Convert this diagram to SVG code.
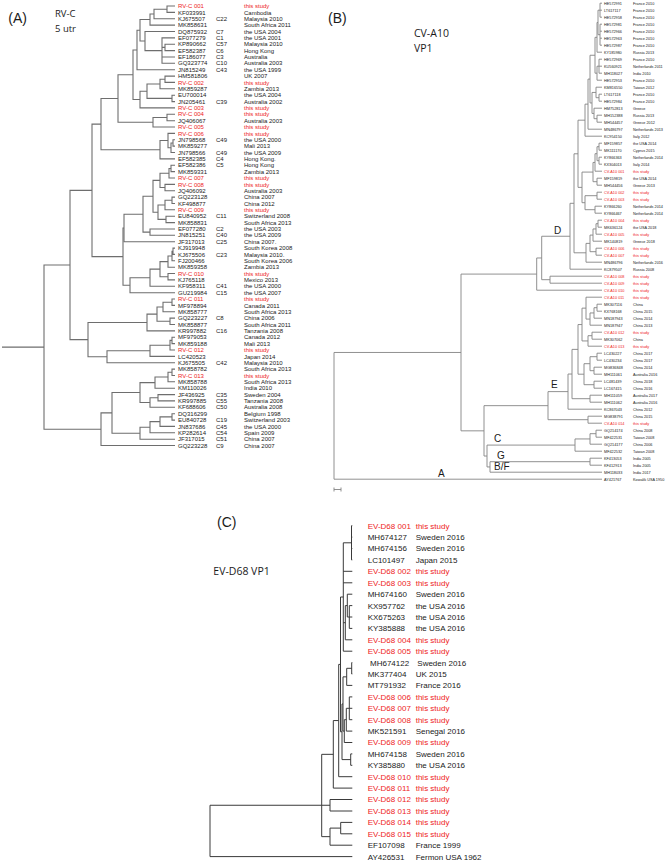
<svg xmlns="http://www.w3.org/2000/svg" width="667" height="861" viewBox="0 0 667 861">
<style>
.ln{fill:none;stroke-linejoin:miter}
.la{stroke:#6e6e6e;stroke-width:1.1}
.lb{stroke:#858585;stroke-width:0.9}
.lc{stroke:#3a3a3a;stroke-width:1}
text{font-family:"Liberation Sans",Arial,sans-serif;fill:#1a1a1a}
.ta{font-size:6px}
.tb{font-size:3.8px}
.tc{font-size:8px}
.r{fill:#ee1c1c}
.pl{font-size:14px}
.hd{font-family:"Open Sans","Liberation Sans",sans-serif;font-size:10.5px}
.ha{font-family:"Open Sans","Liberation Sans",sans-serif;font-size:9.5px}
.cl{font-family:"Open Sans","Liberation Sans",sans-serif;font-size:10px}
</style>
<rect width="667" height="861" fill="#fff"/>

<!-- ================= PANEL A ================= -->
<g id="panelA-titles">
<text class="pl" x="8.3" y="23.2">(A)</text>
<text class="ha" x="55" y="17">RV-C</text>
<text class="ha" x="55" y="31.5">5 utr</text>
</g>
<g id="connectors-A" class="ln la">
<path d="M175,6H167V12.4H175 M167,9.2H154V18.7H175 M154,13.95H150V25.1H175 M175,44.2H165V50.6H175 M175,37.9H162V63.3H175 M162,47.4H165 M162,57H175 M175,31.5H145V50.6H162 M150,19.5H140V41.05H145 M140,30.3H137V69.7H175"/>
<path d="M175,76.1H165V82.4H175 M165,79.25H160V88.8H175 M175,95.2H172V101.6H175 M160,84H147V98.4H172 M147,91.2H140V107.9H175 M137,50H133V99.55H140 M175,114.3H167V120.7H175 M167,117.5H153V127H175 M133,74.8H118V122.25H153"/>
<path d="M175,139.8H173V146.1H175 M173,142.95H171V152.5H175 M175,133.4H168V147.7H171 M168,140.55H160V158.9H175 M118,98.5H101V149.7H160"/>
<path d="M175,165.3H171V171.6H175 M171,168.45H169V178H175 M175,184.4H165V190.7H175 M169,173.2H160V187.55H165 M175,197.1H172V203.5H175 M172,200.3H165V209.8H175 M175,216.2H166V222.6H175 M165,205.05H158V219.4H166 M160,180.4H153V212.2H158 M175,229H150V235.3H175 M153,196.3H143V232.15H150 M143,214.2H124V241.7H175"/>
<path d="M175,248.1H173V254.4H175 M173,251.25H172V260.8H175 M172,256H168V267.2H175 M175,273.5H168V279.9H175 M168,261.6H160V276.7H168 M160,269.15H150V286.3H175 M150,277.7H130V292.7H175 M124,227.95H123V285.2H130 M101,124.1H92V256.6H123"/>
<path d="M175,299H172V305.4H175 M172,302.2H163V311.8H175 M175,318.1H170V324.5H175 M163,307H157V321.3H170 M157,314.15H147V330.9H175 M175,337.2H172V343.6H175 M172,340.4H170V350H175 M170,345.2H150V356.4H175 M150,350.8H107V362.7H175 M147,322.5H88V356.75H107 M92,190.35H70V339.6H88"/>
<path d="M175,369.1H172V375.5H175 M172,372.3H168V381.8H175 M168,377.05H155V388.2H175 M175,394.6H158V400.9H175 M158,397.75H150V407.3H175 M155,382.6H140V402.5H150 M175,413.7H172V420.1H175 M172,416.9H160V426.4H175 M160,421.65H150V432.8H175 M150,427.2H140V439.2H175 M140,392.55H112V433.2H140 M112,412.9H101V445.5H175 M70,265H44V429.2H101 M2,347.1H44"/>
</g>
<g id="leaves-A" class="ta">
<g id="A00"><text class="r" y="8.1"><tspan x="178">RV-C 001</tspan><tspan x="244">this study</tspan></text></g>
<g id="A01"><text y="14.5"><tspan x="178">KF033991</tspan><tspan x="244">Cambodia</tspan></text></g>
<g id="A02"><text y="20.8"><tspan x="178">KJ675507</tspan><tspan x="216">C22</tspan><tspan x="244">Malaysia 2010</tspan></text></g>
<g id="A03"><text y="27.2"><tspan x="178">MK858631</tspan><tspan x="244">South Africa 2011</tspan></text></g>
<g id="A04"><text y="33.6"><tspan x="178">DQ875932</tspan><tspan x="216">C7</tspan><tspan x="244">the USA 2004</tspan></text></g>
<g id="A05"><text y="40"><tspan x="178">EF077279</tspan><tspan x="216">C1</tspan><tspan x="244">the USA 2001</tspan></text></g>
<g id="A06"><text y="46.3"><tspan x="178">KP890662</tspan><tspan x="216">C57</tspan><tspan x="244">Malaysia 2010</tspan></text></g>
<g id="A07"><text y="52.7"><tspan x="178">EF582387</tspan><tspan x="216">C6</tspan><tspan x="244">Hong Kong</tspan></text></g>
<g id="A08"><text y="59.1"><tspan x="178">EF186077</tspan><tspan x="216">C3</tspan><tspan x="244">Australia</tspan></text></g>
<g id="A09"><text y="65.4"><tspan x="178">GQ323774</tspan><tspan x="216">C10</tspan><tspan x="244">Australia 2003</tspan></text></g>
<g id="A10"><text y="71.8"><tspan x="178">JN815249</tspan><tspan x="216">C43</tspan><tspan x="244">the USA 1999</tspan></text></g>
<g id="A11"><text y="78.2"><tspan x="178">HM581806</tspan><tspan x="244">UK 2007</tspan></text></g>
<g id="A12"><text class="r" y="84.5"><tspan x="178">RV-C 002</tspan><tspan x="244">this study</tspan></text></g>
<g id="A13"><text y="90.9"><tspan x="178">MK859287</tspan><tspan x="244">Zambia 2013</tspan></text></g>
<g id="A14"><text y="97.3"><tspan x="178">EU700014</tspan><tspan x="244">the USA 2004</tspan></text></g>
<g id="A15"><text y="103.7"><tspan x="178">JN205461</tspan><tspan x="216">C39</tspan><tspan x="244">Australia 2002</tspan></text></g>
<g id="A16"><text class="r" y="110"><tspan x="178">RV-C 003</tspan><tspan x="244">this study</tspan></text></g>
<g id="A17"><text class="r" y="116.4"><tspan x="178">RV-C 004</tspan><tspan x="244">this study</tspan></text></g>
<g id="A18"><text y="122.8"><tspan x="178">JQ406067</tspan><tspan x="244">Australia 2003</tspan></text></g>
<g id="A19"><text class="r" y="129.1"><tspan x="178">RV-C 005</tspan><tspan x="244">this study</tspan></text></g>
<g id="A20"><text class="r" y="135.5"><tspan x="178">RV-C 006</tspan><tspan x="244">this study</tspan></text></g>
<g id="A21"><text y="141.9"><tspan x="178">JN798568</tspan><tspan x="216">C49</tspan><tspan x="244">the USA 2000</tspan></text></g>
<g id="A22"><text y="148.2"><tspan x="178">MK859277</tspan><tspan x="244">Mali 2013</tspan></text></g>
<g id="A23"><text y="154.6"><tspan x="178">JN798566</tspan><tspan x="216">C49</tspan><tspan x="244">the USA 2009</tspan></text></g>
<g id="A24"><text y="161"><tspan x="178">EF582385</tspan><tspan x="216">C4</tspan><tspan x="244">Hong Kong.</tspan></text></g>
<g id="A25"><text y="167.4"><tspan x="178">EF582386</tspan><tspan x="216">C5</tspan><tspan x="244">Hong Kong</tspan></text></g>
<g id="A26"><text y="173.7"><tspan x="178">MK859331</tspan><tspan x="244">Zambia 2013</tspan></text></g>
<g id="A27"><text class="r" y="180.1"><tspan x="178">RV-C 007</tspan><tspan x="244">this study</tspan></text></g>
<g id="A28"><text class="r" y="186.5"><tspan x="178">RV-C 008</tspan><tspan x="244">this study</tspan></text></g>
<g id="A29"><text y="192.8"><tspan x="178">JQ406092</tspan><tspan x="244">Australia 2003</tspan></text></g>
<g id="A30"><text y="199.2"><tspan x="178">GQ223128</tspan><tspan x="244">China 2007</tspan></text></g>
<g id="A31"><text y="205.6"><tspan x="178">KF498877</tspan><tspan x="244">China 2012</tspan></text></g>
<g id="A32"><text class="r" y="211.9"><tspan x="178">RV-C 009</tspan><tspan x="244">this study</tspan></text></g>
<g id="A33"><text y="218.3"><tspan x="178">EU840952</tspan><tspan x="216">C11</tspan><tspan x="244">Switzerland 2008</tspan></text></g>
<g id="A34"><text y="224.7"><tspan x="178">MK858831</tspan><tspan x="244">South Africa 2013</tspan></text></g>
<g id="A35"><text y="231.1"><tspan x="178">EF077280</tspan><tspan x="216">C2</tspan><tspan x="244">the USA 2003</tspan></text></g>
<g id="A36"><text y="237.4"><tspan x="178">JN815251</tspan><tspan x="216">C40</tspan><tspan x="244">the USA 2009</tspan></text></g>
<g id="A37"><text y="243.8"><tspan x="178">JF317013</tspan><tspan x="216">C25</tspan><tspan x="244">China 2007.</tspan></text></g>
<g id="A38"><text y="250.2"><tspan x="178">KJ919948</tspan><tspan x="244">South Korea 2008</tspan></text></g>
<g id="A39"><text y="256.5"><tspan x="178">KJ675506</tspan><tspan x="216">C23</tspan><tspan x="244">Malaysia 2010.</tspan></text></g>
<g id="A40"><text y="262.9"><tspan x="178">FJ200466</tspan><tspan x="244">South Korea 2006</tspan></text></g>
<g id="A41"><text y="269.3"><tspan x="178">MK859358</tspan><tspan x="244">Zambia 2013</tspan></text></g>
<g id="A42"><text class="r" y="275.6"><tspan x="178">RV-C 010</tspan><tspan x="244">this study</tspan></text></g>
<g id="A43"><text y="282"><tspan x="178">KJ765118</tspan><tspan x="244">Mexico 2013</tspan></text></g>
<g id="A44"><text y="288.4"><tspan x="178">KF958311</tspan><tspan x="216">C41</tspan><tspan x="244">the USA 2000</tspan></text></g>
<g id="A45"><text y="294.8"><tspan x="178">GU219984</tspan><tspan x="216">C15</tspan><tspan x="244">the USA 2007</tspan></text></g>
<g id="A46"><text class="r" y="301.1"><tspan x="178">RV-C 011</tspan><tspan x="244">this study</tspan></text></g>
<g id="A47"><text y="307.5"><tspan x="178">MF978894</tspan><tspan x="244">Canada 2011</tspan></text></g>
<g id="A48"><text y="313.9"><tspan x="178">MK858777</tspan><tspan x="244">South Africa 2013</tspan></text></g>
<g id="A49"><text y="320.2"><tspan x="178">GQ223227</tspan><tspan x="216">C8</tspan><tspan x="244">China 2006</tspan></text></g>
<g id="A50"><text y="326.6"><tspan x="178">MK858877</tspan><tspan x="244">South Africa 2011</tspan></text></g>
<g id="A51"><text y="333"><tspan x="178">KR997882</tspan><tspan x="216">C16</tspan><tspan x="244">Tanzania 2008</tspan></text></g>
<g id="A52"><text y="339.3"><tspan x="178">MF979053</tspan><tspan x="244">Canada 2012</tspan></text></g>
<g id="A53"><text y="345.7"><tspan x="178">MK859188</tspan><tspan x="244">Mali 2013</tspan></text></g>
<g id="A54"><text class="r" y="352.1"><tspan x="178">RV-C 012</tspan><tspan x="244">this study</tspan></text></g>
<g id="A55"><text y="358.5"><tspan x="178">LC420523</tspan><tspan x="244">Japan 2014</tspan></text></g>
<g id="A56"><text y="364.8"><tspan x="178">KJ675505</tspan><tspan x="216">C42</tspan><tspan x="244">Malaysia 2010</tspan></text></g>
<g id="A57"><text y="371.2"><tspan x="178">MK858782</tspan><tspan x="244">South Africa 2013</tspan></text></g>
<g id="A58"><text class="r" y="377.6"><tspan x="178">RV-C 013</tspan><tspan x="244">this study</tspan></text></g>
<g id="A59"><text y="383.9"><tspan x="178">MK858788</tspan><tspan x="244">South Africa 2013</tspan></text></g>
<g id="A60"><text y="390.3"><tspan x="178">KM110026</tspan><tspan x="244">India 2010</tspan></text></g>
<g id="A61"><text y="396.7"><tspan x="178">JF436925</tspan><tspan x="216">C35</tspan><tspan x="244">Sweden 2004</tspan></text></g>
<g id="A62"><text y="403"><tspan x="178">KR997885</tspan><tspan x="216">C55</tspan><tspan x="244">Tanzania 2008</tspan></text></g>
<g id="A63"><text y="409.4"><tspan x="178">KF688606</tspan><tspan x="216">C50</tspan><tspan x="244">Australia 2008</tspan></text></g>
<g id="A64"><text y="415.8"><tspan x="178">DQ316299</tspan><tspan x="244">Belgium 1998</tspan></text></g>
<g id="A65"><text y="422.2"><tspan x="178">EU840728</tspan><tspan x="216">C19</tspan><tspan x="244">Switzerland 2003</tspan></text></g>
<g id="A66"><text y="428.5"><tspan x="178">JN837686</tspan><tspan x="216">C45</tspan><tspan x="244">the USA 2000</tspan></text></g>
<g id="A67"><text y="434.9"><tspan x="178">KP282614</tspan><tspan x="216">C54</tspan><tspan x="244">Spain 2009</tspan></text></g>
<g id="A68"><text y="441.3"><tspan x="178">JF317015</tspan><tspan x="216">C51</tspan><tspan x="244">China 2007</tspan></text></g>
<g id="A69"><text y="447.6"><tspan x="178">GQ223228</tspan><tspan x="216">C9</tspan><tspan x="244">China 2007</tspan></text></g>
</g>

<!-- ================= PANEL B ================= -->
<g id="panelB-titles">
<text class="pl" x="328" y="23">(B)</text>
<text class="hd" x="414" y="37">CV-A10</text>
<text class="hd" x="414" y="52">VP1</text>
</g>
<g id="clade-labels-B" class="cl">
<text x="554" y="233.5">D</text>
<text x="551" y="387.5">E</text>
<text x="494" y="442.3">C</text>
<text x="497" y="459">G</text>
<text x="494" y="469.8">B/F</text>
<text x="438" y="476.5">A</text>
</g>
<g id="connectors-B" class="ln lb">
<path d="M602,3.2H600V17.2H602 M600,10.2H602 M602,24.2H600V45.2H602 M600,31.2H602 M600,38.2H602 M600,10.2H598V34.7H600 M598,22.45H597V52.2H602 M602,59.2H599V73.2H602 M599,66.2H602 M599,66.2H597V80.2H602 M597,37.33H595V73.2H597"/>
<path d="M602,94.2H599V101.2H602 M602,87.2H596V97.7H599 M602,115.2H597V122.2H602 M602,108.2H594V118.7H597 M596,92.45H592V113.45H594 M595,55.26H590V102.95H592 M590,79.1H588V129.2H602 M588,104.15H585V136.2H602"/>
<path d="M602,143.2H599V150.2H602 M602,157.2H599V164.2H602 M599,146.7H597V160.7H599 M597,153.7H595V171.2H602 M602,178.2H597V185.2H602 M595,162.45H593V181.7H597 M602,192.2H597V199.2H602 M602,206.2H595V213.2H602 M597,195.7H585V209.7H595 M593,172.08H582V202.7H585 M585,120.18H578V187.39H582"/>
<path d="M602,220.2H598V227.2H602 M598,223.7H596V234.2H602 M596,228.95H593V241.2H602 M602,248.2H596V255.2H602 M593,235.08H590V251.7H596 M590,243.39H586V262.2H602 M578,153.79H574V252.8H586 M574,203.3H570V269.2H602"/>
<path d="M602,276.2H550V283.2H602 M570,236.25H541.7V279.7H550 M541.7,257.98H536.7V290.2H602"/>
<path d="M602,304.2H597V311.2H602 M597,307.7H594V318.2H602 M594,312.95H590V325.2H602 M602,297.2H586V319.08H590 M602,332.2H592V339.2H602 M592,335.7H588V346.2H602 M586,308.14H582V340.95H588"/>
<path d="M602,353.2H597V360.2H602 M602,367.2H594V374.2H602 M597,356.7H590V370.7H594 M602,381.2H594V388.2H602 M590,363.7H584V384.7H594 M582,324.55H578V374.2H584 M602,395.2H590V402.2H602 M578,349.38H572V398.7H590 M572,374.04H568V409.2H602 M602,416.2H588V423.2H602 M568,391.62H548V419.7H588"/>
<path d="M602,430.2H596V437.2H602 M596,433.7H590V444.2H602 M590,438.95H575V451.2H602 M602,458.2H590V465.2H602 M590,461.7H490V472.2H602 M575,445.08H487V466.95H490 M548,405.66H484V456.02H487 M536.7,274.09H461V430.84H484 M461,352.47H334V479.2H602"/>
<path d="M334,487.5V491.5 M334,489.5H341 M341,487.5V491.5"/>
</g>
<g id="leaves-B" class="tb">
<g id="B00"><text y="4.5"><tspan x="604">HE572991</tspan><tspan x="633">France 2010</tspan></text></g>
<g id="B01"><text y="11.5"><tspan x="604">LT617117</tspan><tspan x="633">France 2010</tspan></text></g>
<g id="B02"><text y="18.5"><tspan x="604">HE572958</tspan><tspan x="633">France 2010</tspan></text></g>
<g id="B03"><text y="25.5"><tspan x="604">HE572981</tspan><tspan x="633">France 2010</tspan></text></g>
<g id="B04"><text y="32.5"><tspan x="604">HE572966</tspan><tspan x="633">France 2010</tspan></text></g>
<g id="B05"><text y="39.5"><tspan x="604">HE572963</tspan><tspan x="633">France 2010</tspan></text></g>
<g id="B06"><text y="46.5"><tspan x="604">HE572987</tspan><tspan x="633">France 2010</tspan></text></g>
<g id="B07"><text y="53.5"><tspan x="604">KY185980</tspan><tspan x="633">Russia 2013</tspan></text></g>
<g id="B08"><text y="60.5"><tspan x="604">HE572969</tspan><tspan x="633">France 2010</tspan></text></g>
<g id="B09"><text y="67.5"><tspan x="604">KU560921</tspan><tspan x="633">Netherlands 2011</tspan></text></g>
<g id="B10"><text y="74.5"><tspan x="604">MH118027</tspan><tspan x="633">India 2010</tspan></text></g>
<g id="B11"><text y="81.5"><tspan x="604">HE572953</tspan><tspan x="633">France 2010</tspan></text></g>
<g id="B12"><text y="88.5"><tspan x="604">KM816550</tspan><tspan x="633">Taiwan 2012</tspan></text></g>
<g id="B13"><text y="95.5"><tspan x="604">LT617118</tspan><tspan x="633">France 2010</tspan></text></g>
<g id="B14"><text y="102.5"><tspan x="604">HE572984</tspan><tspan x="633">France 2010</tspan></text></g>
<g id="B15"><text y="109.5"><tspan x="604">HM752813</tspan><tspan x="633">Greece</tspan></text></g>
<g id="B16"><text y="116.5"><tspan x="604">MH152388</tspan><tspan x="633">Russia 2013</tspan></text></g>
<g id="B17"><text y="123.5"><tspan x="604">MH544457</tspan><tspan x="633">Greece 2012</tspan></text></g>
<g id="B18"><text y="130.5"><tspan x="604">MN486797</tspan><tspan x="633">Netherlands 2013</tspan></text></g>
<g id="B19"><text y="137.5"><tspan x="604">KC954150</tspan><tspan x="633">Italy 2012</tspan></text></g>
<g id="B20"><text y="144.5"><tspan x="604">MF159857</tspan><tspan x="633">the USA 2014</tspan></text></g>
<g id="B21"><text y="151.5"><tspan x="604">MK111170</tspan><tspan x="633">Cyprus 2015</tspan></text></g>
<g id="B22"><text y="158.5"><tspan x="604">KY866363</tspan><tspan x="633">Netherlands 2014</tspan></text></g>
<g id="B23"><text y="165.5"><tspan x="604">KX304013</tspan><tspan x="633">Italy  2014</tspan></text></g>
<g id="B24"><text class="r" y="172.5"><tspan x="604">CV-A10 001</tspan><tspan x="633">this study</tspan></text></g>
<g id="B25"><text y="179.5"><tspan x="604">MF159819</tspan><tspan x="633">the USA 2014</tspan></text></g>
<g id="B26"><text y="186.5"><tspan x="604">MH544456</tspan><tspan x="633">Greece 2013</tspan></text></g>
<g id="B27"><text class="r" y="193.5"><tspan x="604">CV-A10 002</tspan><tspan x="633">this study</tspan></text></g>
<g id="B28"><text class="r" y="200.5"><tspan x="604">CV-A10 003</tspan><tspan x="633">this study</tspan></text></g>
<g id="B29"><text y="207.5"><tspan x="604">KY866260</tspan><tspan x="633">Netherlands 2014</tspan></text></g>
<g id="B30"><text y="214.5"><tspan x="604">KY866467</tspan><tspan x="633">Netherlands 2014</tspan></text></g>
<g id="B31"><text class="r" y="221.5"><tspan x="604">CV-A10 004</tspan><tspan x="633">this study</tspan></text></g>
<g id="B32"><text y="228.5"><tspan x="604">MK636124</tspan><tspan x="633">the USA 2018</tspan></text></g>
<g id="B33"><text class="r" y="235.5"><tspan x="604">CV-A10 005</tspan><tspan x="633">this study</tspan></text></g>
<g id="B34"><text y="242.5"><tspan x="604">MK140819</tspan><tspan x="633">Greece 2018</tspan></text></g>
<g id="B35"><text class="r" y="249.5"><tspan x="604">CV-A10 006</tspan><tspan x="633">this study</tspan></text></g>
<g id="B36"><text class="r" y="256.5"><tspan x="604">CV-A10 007</tspan><tspan x="633">this study</tspan></text></g>
<g id="B37"><text y="263.5"><tspan x="604">MN486796</tspan><tspan x="633">Netherlands 2016</tspan></text></g>
<g id="B38"><text y="270.5"><tspan x="604">KC879507</tspan><tspan x="633">Russia 2008</tspan></text></g>
<g id="B39"><text class="r" y="277.5"><tspan x="604">CV-A10 008</tspan><tspan x="633">this study</tspan></text></g>
<g id="B40"><text class="r" y="284.5"><tspan x="604">CV-A10 009</tspan><tspan x="633">this study</tspan></text></g>
<g id="B41"><text class="r" y="291.5"><tspan x="604">CV-A10 010</tspan><tspan x="633">this study</tspan></text></g>
<g id="B42"><text class="r" y="298.5"><tspan x="604">CV-A10 011</tspan><tspan x="633">this study</tspan></text></g>
<g id="B43"><text y="305.5"><tspan x="604">MK307116</tspan><tspan x="633">China</tspan></text></g>
<g id="B44"><text y="312.5"><tspan x="604">KX768168</tspan><tspan x="633">China 2015</tspan></text></g>
<g id="B45"><text y="319.5"><tspan x="604">MN187943</tspan><tspan x="633">China 2014</tspan></text></g>
<g id="B46"><text y="326.5"><tspan x="604">MN187947</tspan><tspan x="633">China 2013</tspan></text></g>
<g id="B47"><text class="r" y="333.5"><tspan x="604">CV-A10 012</tspan><tspan x="633">this study</tspan></text></g>
<g id="B48"><text y="340.5"><tspan x="604">MK307062</tspan><tspan x="633">China</tspan></text></g>
<g id="B49"><text class="r" y="347.5"><tspan x="604">CV-A10 013</tspan><tspan x="633">this study</tspan></text></g>
<g id="B50"><text y="354.5"><tspan x="604">LC430227</tspan><tspan x="633">China 2017</tspan></text></g>
<g id="B51"><text y="361.5"><tspan x="604">LC430234</tspan><tspan x="633">China 2017</tspan></text></g>
<g id="B52"><text y="368.5"><tspan x="604">MG836848</tspan><tspan x="633">China 2014</tspan></text></g>
<g id="B53"><text y="375.5"><tspan x="604">MH111061</tspan><tspan x="633">Australia 2016</tspan></text></g>
<g id="B54"><text y="382.5"><tspan x="604">LC481439</tspan><tspan x="633">China 2018</tspan></text></g>
<g id="B55"><text y="389.5"><tspan x="604">LC167415</tspan><tspan x="633">China 2016</tspan></text></g>
<g id="B56"><text y="396.5"><tspan x="604">MH111059</tspan><tspan x="633">Australia 2017</tspan></text></g>
<g id="B57"><text y="403.5"><tspan x="604">MH111062</tspan><tspan x="633">Australia 2016</tspan></text></g>
<g id="B58"><text y="410.5"><tspan x="604">KC867043</tspan><tspan x="633">China 2012</tspan></text></g>
<g id="B59"><text y="417.5"><tspan x="604">MG838791</tspan><tspan x="633">China 2015</tspan></text></g>
<g id="B60"><text class="r" y="424.5"><tspan x="604">CV-A10 014</tspan><tspan x="633">this study</tspan></text></g>
<g id="B61"><text y="431.5"><tspan x="604">GQ214174</tspan><tspan x="633">China 2008</tspan></text></g>
<g id="B62"><text y="438.5"><tspan x="604">MF422531</tspan><tspan x="633">Taiwan 2008</tspan></text></g>
<g id="B63"><text y="445.5"><tspan x="604">GQ214177</tspan><tspan x="633">China 2006</tspan></text></g>
<g id="B64"><text y="452.5"><tspan x="604">MF422532</tspan><tspan x="633">Taiwan 2008</tspan></text></g>
<g id="B65"><text y="459.5"><tspan x="604">KF413053</tspan><tspan x="633">India 2005</tspan></text></g>
<g id="B66"><text y="466.5"><tspan x="604">KF412913</tspan><tspan x="633">India 2005</tspan></text></g>
<g id="B67"><text y="473.5"><tspan x="604">MH118033</tspan><tspan x="633">India 2017</tspan></text></g>
<g id="B68"><text y="480.5"><tspan x="604">AY421767</tspan><tspan x="633">Kowalik USA 1950</tspan></text></g>
</g>

<!-- ================= PANEL C ================= -->
<g id="panelC-titles">
<text class="pl" x="217" y="526.5">(C)</text>
<text class="hd" x="213.3" y="575">EV-D68 VP1</text>
</g>
<g id="connectors-C" class="ln lc">
<path d="M352.3,525.7H351.5V559.9H352.3 M351.5,537.1H352.3 M351.5,548.5H352.3 M352.3,605.6H349.3V628.4H352.3 M349.3,617H352.3 M352.3,594.2H347.3V617H349.3 M347.3,605.6H345.3V639.8H352.3 M351.5,542.8H343.3V651.2H352.3 M343.3,571.3H352.3 M343.3,582.8H352.3 M343.3,622.7H345.3"/>
<path d="M352.3,662.6H351.7V674H352.3 M351.7,668.3H346.7V685.4H352.3 M352.3,696.9H349.3V719.7H352.3 M349.3,708.3H352.3 M349.3,708.3H346.3V731.1H352.3 M346.3,719.7H344.3V742.5H352.3 M346.7,676.85H343V731.1H344.3 M352.3,753.9H350.7V765.3H352.3 M343,703.98H342V759.6H350.7"/>
<path d="M343.3,597H340.5V731.79H342 M340.5,664.4H338.7V776.7H352.3 M338.7,720.55H333.3V788.1H352.3 M352.3,799.5H330V811H352.3 M352.3,822.4H340.7V833.8H352.3 M340.7,828.1H330V845.2H352.3 M333.3,754.33H321.7V836.65H330 M321.7,805.25H330 M321.7,805.25H210V856.6H352.3"/>
</g>
<g id="leaves-C" class="tc">
<g id="C00"><text class="r" y="528.6"><tspan x="367.7">EV-D68 001</tspan><tspan x="415.7">this study</tspan></text></g>
<g id="C01"><text y="540"><tspan x="367.7">MH674127</tspan><tspan x="415.7">Sweden 2016</tspan></text></g>
<g id="C02"><text y="551.4"><tspan x="367.7">MH674156</tspan><tspan x="415.7">Sweden 2016</tspan></text></g>
<g id="C03"><text y="562.8"><tspan x="367.7">LC101497</tspan><tspan x="415.7">Japan 2015</tspan></text></g>
<g id="C04"><text class="r" y="574.2"><tspan x="367.7">EV-D68 002</tspan><tspan x="415.7">this study</tspan></text></g>
<g id="C05"><text class="r" y="585.7"><tspan x="367.7">EV-D68 003</tspan><tspan x="415.7">this study</tspan></text></g>
<g id="C06"><text y="597.1"><tspan x="367.7">MH674160</tspan><tspan x="415.7">Sweden 2016</tspan></text></g>
<g id="C07"><text y="608.5"><tspan x="367.7">KX957762</tspan><tspan x="415.7">the USA 2016</tspan></text></g>
<g id="C08"><text y="619.9"><tspan x="367.7">KX675263</tspan><tspan x="415.7">the USA 2016</tspan></text></g>
<g id="C09"><text y="631.3"><tspan x="367.7">KY385888</tspan><tspan x="415.7">the USA 2016</tspan></text></g>
<g id="C10"><text class="r" y="642.7"><tspan x="367.7">EV-D68 004</tspan><tspan x="415.7">this study</tspan></text></g>
<g id="C11"><text class="r" y="654.1"><tspan x="367.7">EV-D68 005</tspan><tspan x="415.7">this study</tspan></text></g>
<g id="C12"><text y="665.5"><tspan x="370">MH674122</tspan><tspan x="417.3">Sweden 2016</tspan></text></g>
<g id="C13"><text y="676.9"><tspan x="367.7">MK377404</tspan><tspan x="415.7">UK 2015</tspan></text></g>
<g id="C14"><text y="688.3"><tspan x="367.7">MT791932</tspan><tspan x="415.7">France 2016</tspan></text></g>
<g id="C15"><text class="r" y="699.8"><tspan x="367.7">EV-D68 006</tspan><tspan x="415.7">this study</tspan></text></g>
<g id="C16"><text class="r" y="711.2"><tspan x="367.7">EV-D68 007</tspan><tspan x="415.7">this study</tspan></text></g>
<g id="C17"><text class="r" y="722.6"><tspan x="367.7">EV-D68 008</tspan><tspan x="415.7">this study</tspan></text></g>
<g id="C18"><text y="734"><tspan x="367.7">MK521591</tspan><tspan x="415.7">Senegal 2016</tspan></text></g>
<g id="C19"><text class="r" y="745.4"><tspan x="367.7">EV-D68 009</tspan><tspan x="415.7">this study</tspan></text></g>
<g id="C20"><text y="756.8"><tspan x="367.7">MH674158</tspan><tspan x="415.7">Sweden 2016</tspan></text></g>
<g id="C21"><text y="768.2"><tspan x="367.7">KY385880</tspan><tspan x="415.7">the USA 2016</tspan></text></g>
<g id="C22"><text class="r" y="779.6"><tspan x="367.7">EV-D68 010</tspan><tspan x="415.7">this study</tspan></text></g>
<g id="C23"><text class="r" y="791"><tspan x="367.7">EV-D68 011</tspan><tspan x="415.7">this study</tspan></text></g>
<g id="C24"><text class="r" y="802.4"><tspan x="367.7">EV-D68 012</tspan><tspan x="415.7">this study</tspan></text></g>
<g id="C25"><text class="r" y="813.9"><tspan x="367.7">EV-D68 013</tspan><tspan x="415.7">this study</tspan></text></g>
<g id="C26"><text class="r" y="825.3"><tspan x="367.7">EV-D68 014</tspan><tspan x="415.7">this study</tspan></text></g>
<g id="C27"><text class="r" y="836.7"><tspan x="367.7">EV-D68 015</tspan><tspan x="415.7">this study</tspan></text></g>
<g id="C28"><text y="848.1"><tspan x="367.7">EF107098</tspan><tspan x="415.7">France 1999</tspan></text></g>
<g id="C29"><text y="859.5"><tspan x="367.7">AY426531</tspan><tspan x="415.7">Fermon USA 1962</tspan></text></g>
</g>
</svg>
